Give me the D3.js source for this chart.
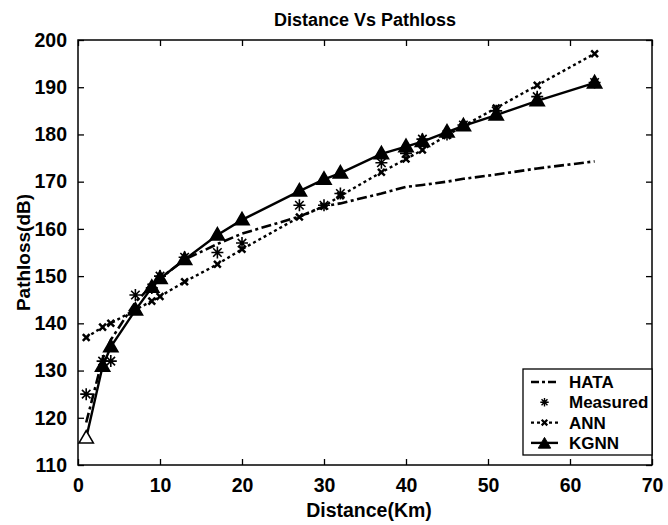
<!DOCTYPE html>
<html>
<head>
<meta charset="utf-8">
<script src="https://cdn.jsdelivr.net/npm/d3@7"></script>
<style>
  body { margin: 0; background: #fff; }
  svg text { font-family: "Liberation Sans", Arial, sans-serif; font-weight: bold; fill: #000; }
</style>
</head>
<body>
<div id="chart"></div>
<script>
const width = 668;
const height = 525;
const margin = { top: 40, right: 14, bottom: 60, left: 78 };

// distances in km
const distance = [1, 3, 4, 7, 9, 10, 13, 17, 20, 27, 30, 32, 37, 40, 42, 45, 47, 51, 56, 63];
const hata = [119, 132.5, 136.5, 144.5, 148, 149.5, 153.5, 156.8, 159, 162.6, 164.8, 165.4, 167.5, 168.9, 169.3, 170, 170.6, 171.5, 172.8, 174.3];
const measured = [125, 132, 132, 146, 147.5, 150, 154, 155, 157, 165, 165, 167.5, 174, 176, 179, 180, 182, 185, 188, 191];
const ann = [137, 139.2, 140, 142.9, 144.7, 145.7, 148.8, 152.5, 155.7, 162.5, 164.8, 167, 172, 174.8, 176.7, 179.8, 181.8, 185.6, 190.4, 197.1];
const kgnn = [115.7, 130.9, 135, 142.8, 147.6, 149.5, 153.5, 158.7, 161.9, 168, 170.5, 171.8, 175.9, 177.4, 178.5, 180.5, 181.8, 184.1, 187.1, 190.9];

const xTicks = [0, 10, 20, 30, 40, 50, 60, 70];
const yTicks = [110, 120, 130, 140, 150, 160, 170, 180, 190, 200];

const svg = d3.select("#chart")
    .append("svg")
    .attr("width", width)
    .attr("height", height);

const x = d3.scaleLinear().domain([0, 70]).range([margin.left, width - margin.right - 2]);
const y = d3.scaleLinear().domain([110, 200]).range([height - margin.bottom, margin.top]);

const toPoints = (vals) => distance.map((d, i) => [d, vals[i]]);

// box + ticks
svg.append("rect")
    .attr("x", x(0)).attr("y", y(200))
    .attr("width", x(70) - x(0)).attr("height", y(110) - y(200))
    .attr("fill", "none").attr("stroke", "#000").attr("stroke-width", 1.5);

const tickLen = 6;
const xAxis = svg.append("g")
    .attr("transform", `translate(0,${y(110)})`)
    .call(d3.axisBottom(x).tickValues(xTicks).tickSize(-tickLen).tickPadding(tickLen + 7));
const xTop = svg.append("g")
    .attr("transform", `translate(0,${y(200)})`)
    .call(d3.axisTop(x).tickValues(xTicks).tickSize(-tickLen).tickFormat(""));
const yAxis = svg.append("g")
    .attr("transform", `translate(${x(0)},0)`)
    .call(d3.axisLeft(y).tickValues(yTicks).tickSize(-tickLen).tickPadding(tickLen + 5));
const yRight = svg.append("g")
    .attr("transform", `translate(${x(70)},0)`)
    .call(d3.axisRight(y).tickValues(yTicks).tickSize(-tickLen).tickFormat(""));

[xAxis, xTop, yAxis, yRight].forEach((g) => {
    g.select(".domain").remove();
    g.selectAll(".tick line").attr("stroke", "#000").attr("stroke-width", 1.3);
    g.selectAll(".tick text").style("font-size", "19.5px").attr("fill", "#000");
});

// lines
const line = d3.line().x((d) => x(d[0])).y((d) => y(d[1]));

svg.append("path")
    .datum(toPoints(hata))
    .attr("d", line)
    .attr("fill", "none").attr("stroke", "#000").attr("stroke-width", 2.6)
    .attr("stroke-dasharray", "10,3.5,3,3.5");

svg.append("path")
    .datum(toPoints(ann))
    .attr("d", line)
    .attr("fill", "none").attr("stroke", "#000").attr("stroke-width", 2.4)
    .attr("stroke-dasharray", "3,3");

svg.append("path")
    .datum(toPoints(kgnn))
    .attr("d", line)
    .attr("fill", "none").attr("stroke", "#000").attr("stroke-width", 2.4);

// markers
const starPath = (r) => {
    let p = "";
    for (let k = 0; k < 4; k++) {
        const a = k * Math.PI / 4;
        p += `M${-r * Math.cos(a)},${-r * Math.sin(a)}L${r * Math.cos(a)},${r * Math.sin(a)}`;
    }
    return p;
};
const crossPath = (r) => `M${-r},${-r}L${r},${r}M${-r},${r}L${r},${-r}`;
const triPath = (r) => `M0,${-r}L${r * 0.95},${r * 0.65}L${-r * 0.95},${r * 0.65}Z`;

svg.append("g").selectAll("path")
    .data(toPoints(ann))
    .join("path")
    .attr("transform", (d) => `translate(${x(d[0])},${y(d[1])})`)
    .attr("d", crossPath(3.4))
    .attr("stroke", "#000").attr("stroke-width", 2.5).attr("fill", "none");

svg.append("g").selectAll("path")
    .data(toPoints(measured))
    .join("path")
    .attr("transform", (d) => `translate(${x(d[0])},${y(d[1])})`)
    .attr("d", starPath(6))
    .attr("stroke", "#000").attr("stroke-width", 1.6).attr("fill", "none");

svg.append("g").selectAll("path")
    .data(toPoints(kgnn))
    .join("path")
    .attr("transform", (d) => `translate(${x(d[0])},${y(d[1])})`)
    .attr("d", triPath(7.5))
    .attr("stroke", "#000").attr("stroke-width", 1.6)
    .attr("fill", (d, i) => (i === 0 ? "#fff" : "#000"));

// title & axis labels
svg.append("text")
    .attr("x", (x(0) + x(70)) / 2).attr("y", 26)
    .attr("text-anchor", "middle")
    .style("font-size", "18px")
    .text("Distance Vs Pathloss");

svg.append("text")
    .attr("x", (x(0) + x(70)) / 2 + 4).attr("y", 517)
    .attr("text-anchor", "middle")
    .style("font-size", "19.5px")
    .text("Distance(Km)");

svg.append("text")
    .attr("transform", `translate(30,${(y(110) + y(200)) / 2}) rotate(-90)`)
    .attr("text-anchor", "middle")
    .style("font-size", "19px")
    .text("Pathloss(dB)");

// legend
const legendNames = ["HATA", "Measured", "ANN", "KGNN"];
const lg = svg.append("g");
lg.append("rect")
    .attr("x", 523).attr("y", 369)
    .attr("width", 129).attr("height", 86)
    .attr("fill", "#fff").attr("stroke", "#000").attr("stroke-width", 1.3);

legendNames.forEach((name, i) => {
    const ly = 382 + i * 20.3;
    const row = lg.append("g").attr("transform", `translate(0,${ly})`);
    if (name === "HATA") {
        row.append("line").attr("x1", 531).attr("x2", 558).attr("y1", 0).attr("y2", 0)
            .attr("stroke", "#000").attr("stroke-width", 2.4).attr("stroke-dasharray", "8,3,3,3");
    } else if (name === "Measured") {
        row.append("path").attr("transform", "translate(544.5,0)").attr("d", starPath(4.2))
            .attr("stroke", "#000").attr("stroke-width", 1.4);
    } else if (name === "ANN") {
        row.append("line").attr("x1", 531).attr("x2", 558).attr("y1", 0).attr("y2", 0)
            .attr("stroke", "#000").attr("stroke-width", 2.2).attr("stroke-dasharray", "3,3");
        row.append("path").attr("transform", "translate(544.5,0)").attr("d", crossPath(2.8))
            .attr("stroke", "#000").attr("stroke-width", 2.2);
    } else {
        row.append("line").attr("x1", 531).attr("x2", 558).attr("y1", 0).attr("y2", 0)
            .attr("stroke", "#000").attr("stroke-width", 2.4);
        row.append("path").attr("transform", "translate(544.5,1)").attr("d", triPath(6.5))
            .attr("fill", "#000").attr("stroke", "#000").attr("stroke-width", 1);
    }
    row.append("text")
        .attr("x", 569).attr("y", 6)
        .style("font-size", "17px")
        .text(name);
});
</script>
</body>
</html>
